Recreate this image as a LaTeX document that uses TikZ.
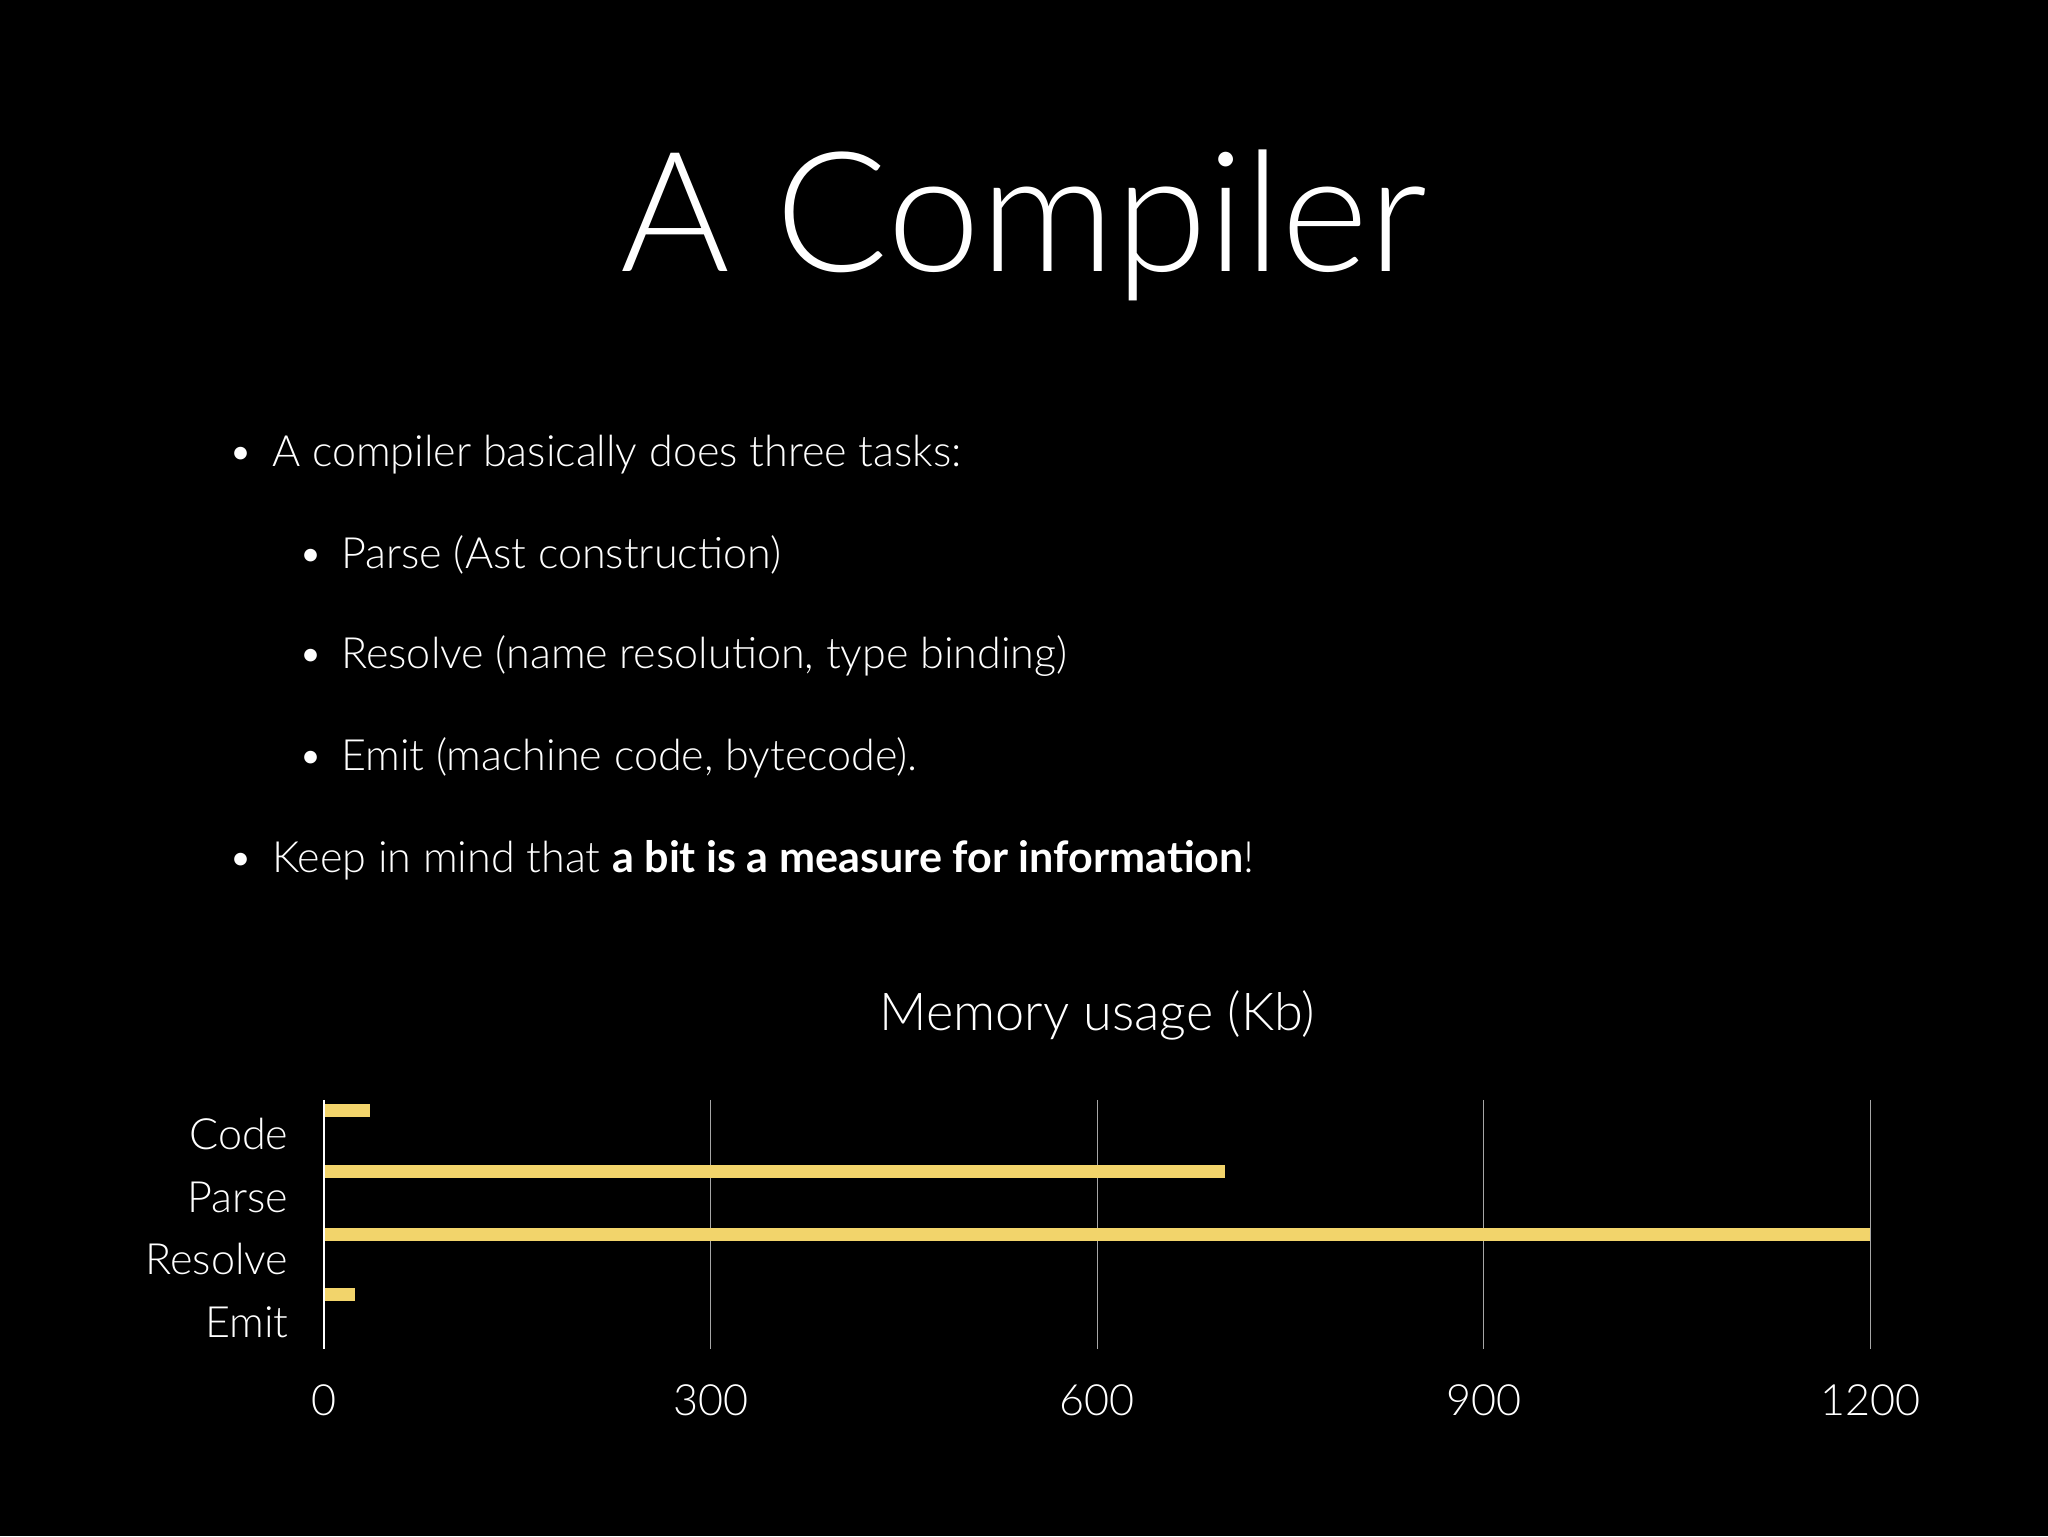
\documentclass[tikz,border=0pt]{standalone}
\usepackage{fontspec}
\setmainfont{Lato}[UprightFont=* Light, BoldFont=* Bold]
\definecolor{bar}{HTML}{F2D46B}
\begin{document}
\begin{tikzpicture}[x=1pt,y=-1pt,
  txt/.style={text=white,inner sep=0,font=\fontsize{33}{40}\selectfont},
  lbl/.style={text=white,inner sep=0,font=\fontsize{33}{40}\selectfont,anchor=base east},
  num/.style={text=white,inner sep=0,font=\fontsize{33}{40}\selectfont,anchor=base},
  barstyle/.style={fill=bar,draw=none},
  grid/.style={draw=gray!70,line width=0.8pt}]
\fill[black] (0,0) rectangle (1568,1176);
\useasboundingbox (0,0) rectangle (1568,1176);
\node[text=white,inner sep=0,anchor=base,font=\fontsize{128}{150}\selectfont] (title) at (784,208) {A Compiler};
\node[txt,anchor=base west] (b1) at (175,357) {•\hspace{14pt}A compiler basically does three tasks:};
\node[txt,anchor=base west] (b2) at (228,435) {•\hspace{14pt}Parse (Ast construction)};
\node[txt,anchor=base west] (b3) at (228,512) {•\hspace{14pt}Resolve (name resolution, type binding)};
\node[txt,anchor=base west] (b4) at (228,590) {•\hspace{14pt}Emit (machine code, bytecode).};
\node[txt,anchor=base west] (b5) at (175,668) {•\hspace{14pt}Keep in mind that \textbf{a bit is a measure for information}!};
\node[text=white,inner sep=0,anchor=base,font=\fontsize{40}{48}\selectfont] (ct) at (840,789) {Memory usage (Kb)};
\foreach \x in {544,840,1136,1432} \draw[grid] (\x,842) -- (\x,1033);
\draw[white,line width=1pt] (248,842) -- (248,1033);
\fill[barstyle] (249,845) rectangle (283,855);
\fill[barstyle] (249,892) rectangle (938,902);
\fill[barstyle] (249,940) rectangle (1432,950);
\fill[barstyle] (249,986) rectangle (272,996);
\node[lbl] (l1) at (221,880) {Code};
\node[lbl] (l2) at (221,928) {Parse};
\node[lbl] (l3) at (221,976) {Resolve};
\node[lbl] (l4) at (221,1024) {Emit};
\node[num] (n0) at (248,1084) {0};
\node[num] (n1) at (544,1084) {300};
\node[num] (n2) at (840,1084) {600};
\node[num] (n3) at (1136,1084) {900};
\node[num] (n4) at (1432,1084) {1200};
\end{tikzpicture}
\end{document}
